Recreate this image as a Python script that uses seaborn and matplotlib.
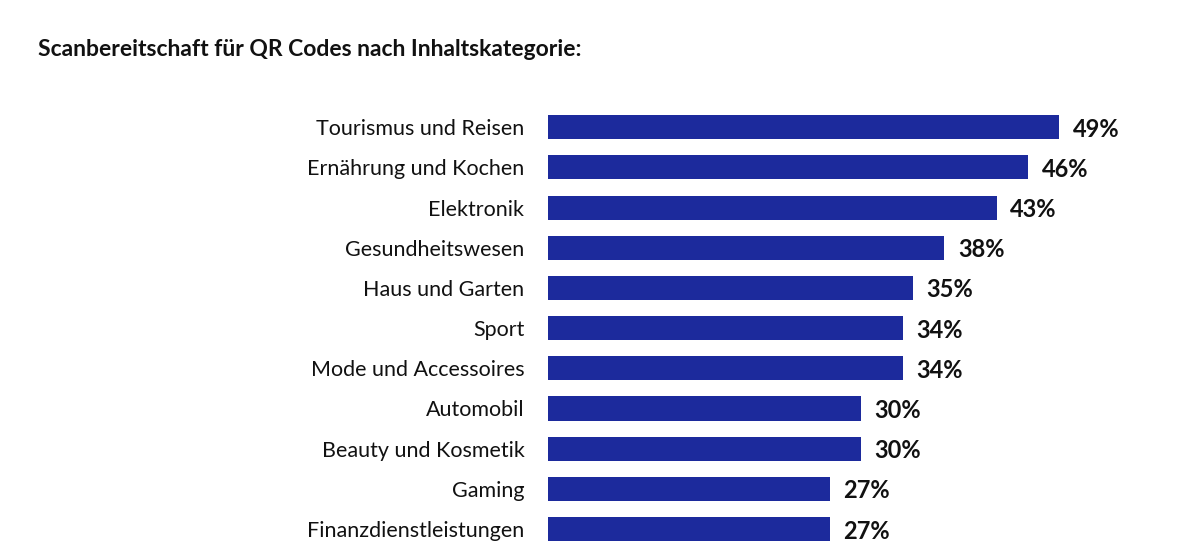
import matplotlib
matplotlib.use("Agg")
import matplotlib.pyplot as plt
import seaborn as sns
import pandas as pd

CATEGORIES = [
    "Tourismus und Reisen", "Ernährung und Kochen", "Elektronik",
    "Gesundheitswesen", "Haus und Garten", "Sport", "Mode und Accessoires",
    "Automobil", "Beauty und Kosmetik", "Gaming", "Finanzdienstleistungen",
]
VALUES = [49, 46, 43, 38, 35, 34, 34, 30, 30, 27, 27]
TITLE = "Scanbereitschaft für QR Codes nach Inhaltskategorie:"

sns.set_style("white")
plt.rcParams["font.family"] = ["Lato", "DejaVu Sans"]

df = pd.DataFrame({"cat": CATEGORIES, "val": VALUES})

fig = plt.figure(figsize=(12, 5.55), dpi=100)
ax = fig.add_axes([0.4567, 0.0106, 0.539, 0.7964])
sns.barplot(data=df, x="val", y="cat", color="#1C2A9C", saturation=1,
            width=0.6, linewidth=0, ax=ax)
ax.set_xlim(0, 62)
ax.set_ylim(10.5, -0.5)
ax.set_xlabel("")
ax.set_ylabel("")
ax.set_xticks([])
ax.tick_params(axis="y", length=0, pad=17, labelsize=15.5, labelcolor="#111111")
for s in ax.spines.values():
    s.set_visible(False)

for i, v in enumerate(VALUES):
    ax.text(v + 1.3, i + 0.05, f"{v}%", va="center", ha="left",
            fontsize=17, fontweight="bold", color="#111111")

fig.text(38 / 1200, 1 - 50 / 555, TITLE, ha="left", va="center",
         fontsize=16.5, fontweight="bold", color="#111111")

fig.savefig("out.png", dpi=100)
